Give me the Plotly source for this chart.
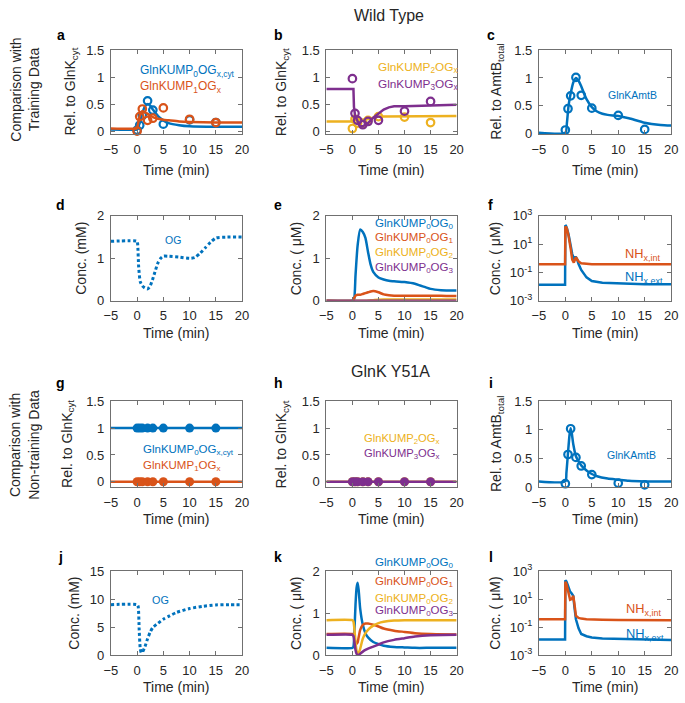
import plotly.graph_objects as go

# ---------------- colours ----------------
BLUE = '#0072BD'; ORANGE = '#D95319'; YELLOW = '#EDB120'; PURPLE = '#7E2F8E'
AX = '#707070'; TXT = '#262626'
FONT = 'Liberation Sans, Arial, sans-serif'

# ---------------- data ----------------
x_ticks = [-5, 0, 5, 10, 15, 20]
t_data = [0, 0.5, 1, 2, 3, 5, 10, 15]

# a
a_fit_t = [-5, -0.1, 0, 0.5, 1, 1.5, 2, 2.5, 3, 4, 5, 6, 8, 10, 15, 20]
a_p0_fit = [0.03, 0.03, 0.04, 0.15, 0.33, 0.46, 0.5, 0.47, 0.4, 0.28, 0.2, 0.15, 0.11, 0.09, 0.08, 0.08]
a_p1_fit = [0.05, 0.05, 0.06, 0.28, 0.37, 0.35, 0.32, 0.29, 0.26, 0.23, 0.21, 0.2, 0.18, 0.17, 0.16, 0.16]
a_p0_data = [0.02, 0.11, 0.29, 0.56, 0.39, 0.13, 0.21, 0.16]
a_p1_data = [0.0, 0.27, 0.41, 0.2, 0.24, 0.43, 0.22, 0.16]

# b
b_fit_t = [-5, 0.2, 0.3, 0.5, 1, 1.5, 2, 3, 4, 5, 6, 7, 8, 10, 15, 20]
b_p2_fit = [0.18, 0.18, 0.26, 0.24, 0.2, 0.19, 0.2, 0.22, 0.25, 0.27, 0.27, 0.27, 0.27, 0.27, 0.28, 0.28]
b_p3_fit = [0.78, 0.78, 0.45, 0.3, 0.18, 0.09, 0.09, 0.15, 0.25, 0.33, 0.4, 0.44, 0.46, 0.46, 0.47, 0.49]
b_p2_data = [0.05, 0.22, 0.15, 0.15, 0.2, 0.27, 0.26, 0.16]
b_p3_data = [0.97, 0.33, 0.2, 0.12, 0.18, 0.2, 0.37, 0.55]

# c
c_fit_t = [-5, 0, 0.3, 0.6, 1, 1.5, 2, 2.5, 3, 4, 5, 6, 7, 8, 10, 12, 15, 18, 20]
c_fit = [0.02, 0.02, 0.2, 0.5, 0.72, 0.92, 1.0, 0.95, 0.85, 0.62, 0.48, 0.4, 0.36, 0.34, 0.32, 0.28, 0.2, 0.16, 0.15]
c_data = [0.07, 0.45, 0.68, 1.01, 0.69, 0.46, 0.33, 0.08]

# d
d_t = [-5, 0, 0.1, 0.3, 0.6, 1, 1.5, 2, 2.5, 3, 3.5, 4, 4.5, 5, 6, 8, 10, 11, 12, 13, 14, 15, 17, 20]
d_og = [1.4, 1.4, 1.35, 0.8, 0.45, 0.35, 0.3, 0.28, 0.35, 0.52, 0.72, 0.9, 1.0, 1.05, 1.05, 1.03, 1.0, 1.02, 1.12, 1.25, 1.38, 1.48, 1.5, 1.5]

# e
e_t = [-5, 0, 0.3, 0.6, 1, 1.5, 2, 2.5, 3, 3.5, 4, 5, 6, 7, 8, 10, 12, 13, 14, 15, 17, 20]
e_og0 = [0.0, 0.0, 0.02, 0.6, 1.3, 1.68, 1.62, 1.48, 1.15, 0.85, 0.68, 0.55, 0.5, 0.47, 0.46, 0.44, 0.4, 0.36, 0.32, 0.28, 0.25, 0.24]
e_og1 = [0, 0, 0.05, 0.12, 0.14, 0.14, 0.16, 0.18, 0.2, 0.22, 0.23, 0.2, 0.15, 0.13, 0.12, 0.12, 0.12, 0.12, 0.12, 0.12, 0.12, 0.11]
e_og2 = [0, 0, 0, 0, 0, 0, 0, 0, 0.005, 0.01, 0.015, 0.025, 0.03, 0.03, 0.03, 0.03, 0.03, 0.03, 0.03, 0.03, 0.03, 0.03]
e_og3 = [0, 0, 0, 0, 0, 0, 0, 0, 0, 0, 0, 0, 0, 0, 0, 0, 0, 0, 0, 0, 0, 0]

# f
f_t = [-5, -0.05, 0, 0.1, 0.3, 0.6, 1, 1.3, 1.6, 1.8, 2, 2.2, 2.5, 3, 4, 5, 7, 10, 15, 20]
f_int = [0.38, 0.38, 150, 180, 120, 40, 5, 0.8, 0.5, 0.9, 1.2, 0.9, 0.6, 0.45, 0.4, 0.38, 0.38, 0.38, 0.38, 0.38]
f_ext = [0.0135, 0.0135, 220, 200, 130, 50, 8, 2, 1.0, 1.2, 1.2, 0.9, 0.4, 0.15, 0.045, 0.025, 0.019, 0.017, 0.015, 0.015]

# g
g_fit_t = [-5, 20]
g_p0_fit = [1, 1]
g_p1_fit = [0, 0]
g_p0_data = [1, 1, 1, 1, 1, 1, 1, 1]
g_p1_data = [0, 0, 0, 0, 0, 0, 0, 0]

# h
h_fit_t = [-5, 20]
h_p2_fit = [0, 0]
h_p3_fit = [0, 0]
h_p2_data = [0, 0, 0, 0, 0, 0, 0, 0]
h_p3_data = [0, 0, 0, 0, 0, 0, 0, 0]

# i
i_fit_t = [-5, 0, 0.2, 0.5, 0.8, 1, 1.2, 1.5, 2, 2.5, 3, 4, 5, 6, 8, 10, 12, 15, 20]
i_fit = [0.1, 0.1, 0.25, 0.6, 0.92, 1.03, 0.95, 0.75, 0.54, 0.45, 0.38, 0.29, 0.23, 0.19, 0.15, 0.13, 0.11, 0.1, 0.1]
i_data = [0.06, 0.57, 1.02, 0.52, 0.37, 0.22, 0.07, 0.04]

# j
j_t = [-5, 0, 0.2, 0.4, 0.6, 0.8, 1, 1.5, 2, 2.5, 3, 3.75, 5, 6, 7.5, 10, 12.5, 15, 17.5, 20]
j_og = [9.0, 9.0, 8.7, 4.5, 1.2, 0.4, 0.5, 1.5, 2.9, 4.1, 4.9, 5.5, 6.4, 6.9, 7.6, 8.3, 8.7, 8.95, 9.0, 9.0]

# k
k_t = [-5, 0, 0.2, 0.4, 0.6, 0.8, 1, 1.2, 1.5, 2, 2.5, 3, 4, 5, 6, 8, 10, 12, 15, 20]
k_og0 = [0.17, 0.17, 0.2, 0.6, 1.2, 1.6, 1.72, 1.55, 1.1, 0.72, 0.52, 0.42, 0.31, 0.26, 0.22, 0.19, 0.18, 0.17, 0.17, 0.17]
k_og1 = [0.5, 0.5, 0.48, 0.4, 0.3, 0.27, 0.3, 0.42, 0.6, 0.72, 0.75, 0.75, 0.72, 0.68, 0.63, 0.58, 0.55, 0.52, 0.5, 0.49]
k_og2 = [0.83, 0.83, 0.8, 0.6, 0.3, 0.1, 0.02, 0.04, 0.15, 0.39, 0.52, 0.6, 0.7, 0.76, 0.79, 0.82, 0.83, 0.83, 0.83, 0.83]
k_og3 = [0.48, 0.48, 0.45, 0.3, 0.12, 0.03, 0.0, 0.0, 0.03, 0.08, 0.12, 0.15, 0.2, 0.25, 0.3, 0.36, 0.4, 0.44, 0.47, 0.48]

# l
l_t = [-5, -0.05, 0, 0.2, 0.5, 0.9, 1.2, 1.5, 1.7, 2, 2.5, 3, 4, 5, 7, 10, 15, 20]
l_int = [0.36, 0.36, 170, 120, 40, 9, 10, 17, 5, 0.63, 0.45, 0.4, 0.36, 0.34, 0.33, 0.32, 0.31, 0.3]
l_ext = [0.013, 0.013, 220, 180, 90, 34, 25, 17, 3, 0.36, 0.08, 0.032, 0.022, 0.018, 0.015, 0.014, 0.013, 0.012]

# ---------------- layout geometry ----------------
W, H = 685, 703
cols_px = [(106, 240), (326, 459), (543, 678)]
rows_px = [(42, 128), (212, 299), (402, 490), (576, 662)]

yranges = [[-0.05, 1.5], [-0.05, 1.5], [0, 1.5],
           [0, 2], [0, 2], [-3, 3],
           [-0.1, 1.5], [-0.1, 1.5], [0, 1.5],
           [0, 15], [0, 2], [-3, 3]]
log_panels = {5, 11}
ytick_sets = {
    'rel': ([0, 0.5, 1, 1.5], ['0', '0.5', '1', '1.5']),
    'c2': ([0, 1, 2], ['0', '1', '2']),
    'log': ([1e-3, 1e-1, 1e1, 1e3], ['10<sup>-3</sup>', '10<sup>-1</sup>', '10<sup>1</sup>', '10<sup>3</sup>']),
    'c15': ([0, 5, 10, 15], ['0', '5', '10', '15']),
}
ytick_kind = ['rel', 'rel', 'rel', 'c2', 'c2', 'log', 'rel', 'rel', 'rel', 'c15', 'c2', 'log']

fig = go.Figure()

def ax_ids(p):
    s = '' if p == 0 else str(p + 1)
    return 'x' + s, 'y' + s

def line(p, x, y, color, width=2.5, dash='solid', shape='spline'):
    xa, ya = ax_ids(p)
    fig.add_trace(go.Scatter(x=x, y=y, mode='lines', xaxis=xa, yaxis=ya,
                             line=dict(color=color, width=width, dash=dash, shape=shape, smoothing=0.6),
                             hoverinfo='skip'))

def pts(p, x, y, color, filled=False):
    xa, ya = ax_ids(p)
    if filled:
        m = dict(symbol='circle', size=9, color=color)
    else:
        m = dict(symbol='circle-open', size=7.5, color=color, line=dict(width=2.2, color=color))
    fig.add_trace(go.Scatter(x=x, y=y, mode='markers', xaxis=xa, yaxis=ya, marker=m,
                             hoverinfo='skip', cliponaxis=False))

# a
line(0, a_fit_t, a_p0_fit, BLUE); pts(0, t_data, a_p0_data, BLUE)
line(0, a_fit_t, a_p1_fit, ORANGE); pts(0, t_data, a_p1_data, ORANGE)
# b
line(1, b_fit_t, b_p2_fit, YELLOW, shape='linear'); pts(1, t_data, b_p2_data, YELLOW)
line(1, b_fit_t, b_p3_fit, PURPLE, shape='linear'); pts(1, t_data, b_p3_data, PURPLE)
# c
line(2, c_fit_t, c_fit, BLUE); pts(2, t_data, c_data, BLUE)
# d
line(3, d_t, d_og, BLUE, width=3, dash='3px,2.5px')
# e
line(4, e_t, e_og0, BLUE); line(4, e_t, e_og1, ORANGE); line(4, e_t, e_og2, YELLOW); line(4, e_t, e_og3, PURPLE)
# f
line(5, f_t, f_ext, BLUE, shape='linear'); line(5, f_t, f_int, ORANGE, shape='linear')
# g
line(6, g_fit_t, g_p0_fit, BLUE, shape='linear'); pts(6, t_data, g_p0_data, BLUE, True)
line(6, g_fit_t, g_p1_fit, ORANGE, shape='linear'); pts(6, t_data, g_p1_data, ORANGE, True)
# h
line(7, h_fit_t, h_p2_fit, YELLOW, shape='linear'); pts(7, t_data, h_p2_data, YELLOW, True)
line(7, h_fit_t, h_p3_fit, PURPLE, shape='linear'); pts(7, t_data, h_p3_data, PURPLE, True)
# i
line(8, i_fit_t, i_fit, BLUE); pts(8, t_data, i_data, BLUE)
# j
line(9, j_t, j_og, BLUE, width=3, dash='3px,2.5px')
# k
line(10, k_t, k_og0, BLUE); line(10, k_t, k_og1, ORANGE); line(10, k_t, k_og2, YELLOW); line(10, k_t, k_og3, PURPLE)
# l
line(11, l_t, l_ext, BLUE, shape='linear'); line(11, l_t, l_int, ORANGE, shape='linear')

layout = dict(width=W, height=H, margin=dict(l=0, r=0, t=0, b=0),
              paper_bgcolor='white', plot_bgcolor='white', showlegend=False,
              font=dict(family=FONT, color=TXT, size=13))
for p in range(12):
    r, c = divmod(p, 3)
    x0, x1 = cols_px[c]; y0, y1 = rows_px[r]
    s = '' if p == 0 else str(p + 1)
    tv, tt = ytick_sets[ytick_kind[p]]
    common = dict(ticks='inside', ticklen=4, tickcolor=AX, showline=True, linecolor=AX,
                  linewidth=1, mirror='ticks', showgrid=False, zeroline=False,
                  tickfont=dict(size=13, color=TXT, family=FONT))
    layout['xaxis' + s] = dict(domain=[x0 / W, x1 / W], range=[-5, 20], tickvals=x_ticks,
                               anchor='y' + s, ticklabelstandoff=3, **common)
    ya = dict(domain=[1 - y1 / H, 1 - y0 / H], range=yranges[p], tickvals=tv, ticktext=tt,
              anchor='x' + s, ticklabelstandoff=3, **common)
    if p in log_panels:
        ya['type'] = 'log'
    layout['yaxis' + s] = ya

ann = []

def txt(p, x, y, text, color, size, xanchor='left'):
    s = '' if p == 0 else str(p + 1)
    ann.append(dict(xref='x' + s, yref='y' + s, x=x, y=y, text=text, showarrow=False,
                    xanchor=xanchor, yanchor='middle', font=dict(color=color, size=size, family=FONT)))

def paper(xp, yp, text, size, angle=0, bold=False, color=TXT, xanchor='center'):
    if bold:
        text = '<b>' + text + '</b>'
    ann.append(dict(xref='paper', yref='paper', x=xp / W, y=1 - yp / H, text=text, showarrow=False,
                    xanchor=xanchor, yanchor='middle', textangle=angle,
                    font=dict(color=color, size=size, family=FONT)))

# in-plot labels
txt(0, 0.1, 1.12, 'GlnKUMP<sub>0</sub>OG<sub>x,cyt</sub>', BLUE, 12)
txt(0, 0.1, 0.82, 'GlnKUMP<sub>1</sub>OG<sub>x</sub>', ORANGE, 12)
txt(1, 4.6, 1.17, 'GlnKUMP<sub>2</sub>OG<sub>x</sub>', YELLOW, 11.8)
txt(1, 4.6, 0.87, 'GlnKUMP<sub>3</sub>OG<sub>x</sub>', PURPLE, 11.8)
txt(2, 7.6, 0.7, 'GlnKAmtB', BLUE, 10.5)
txt(3, 4.9, 1.42, 'OG', BLUE, 10.5)
txt(4, 19.8, 1.8, 'GlnKUMP<sub>0</sub>OG<sub>0</sub>', BLUE, 11.5, 'right')
txt(4, 19.8, 1.49, 'GlnKUMP<sub>0</sub>OG<sub>1</sub>', ORANGE, 11.5, 'right')
txt(4, 19.8, 1.13, 'GlnKUMP<sub>0</sub>OG<sub>2</sub>', YELLOW, 11.5, 'right')
txt(4, 19.8, 0.77, 'GlnKUMP<sub>0</sub>OG<sub>3</sub>', PURPLE, 11.5, 'right')
txt(5, 10.9, 0.3, 'NH<sub>x,int</sub>', ORANGE, 12.8)
txt(5, 10.9, -1.35, 'NH<sub>x,ext</sub>', BLUE, 12.8)
txt(6, 0.75, 0.6, 'GlnKUMP<sub>0</sub>OG<sub>x,cyt</sub>', BLUE, 11.5)
txt(6, 0.75, 0.3, 'GlnKUMP<sub>1</sub>OG<sub>x</sub>', ORANGE, 11.5)
txt(7, 1.75, 0.8, 'GlnKUMP<sub>2</sub>OG<sub>x</sub>', YELLOW, 11.2)
txt(7, 1.75, 0.51, 'GlnKUMP<sub>3</sub>OG<sub>x</sub>', PURPLE, 11.2)
txt(8, 7.45, 0.56, 'GlnKAmtB', BLUE, 10.5)
txt(9, 2.5, 9.9, 'OG', BLUE, 10.8)
# top label of k sits above the axes, so it is placed in page coordinates
paper(cols_px[1][1] - 1, 568, 'GlnKUMP<sub>0</sub>OG<sub>0</sub>', 11.5, color=BLUE, xanchor='right')
txt(10, 19.8, 1.74, 'GlnKUMP<sub>0</sub>OG<sub>1</sub>', ORANGE, 11.5, 'right')
txt(10, 19.8, 1.34, 'GlnKUMP<sub>0</sub>OG<sub>2</sub>', YELLOW, 11.5, 'right')
txt(10, 19.8, 1.06, 'GlnKUMP<sub>0</sub>OG<sub>3</sub>', PURPLE, 11.5, 'right')
txt(11, 11.0, 0.22, 'NH<sub>x,int</sub>', ORANGE, 12.8)
txt(11, 11.0, -1.57, 'NH<sub>x,ext</sub>', BLUE, 12.8)

# x titles
x_title_y = [165, 332, 523, 695]
for r in range(4):
    for c in range(3):
        paper((cols_px[c][0] + cols_px[c][1]) / 2, x_title_y[r], 'Time (min)', 14)

# y titles
rel_glnk = 'Rel. to GlnK<sub>cyt</sub>'
rel_amtb = 'Rel. to AmtB<sub>total</sub>'
conc_mm = 'Conc. (mM)'
conc_um = 'Conc. ( μM)'
ytitles = [(65, rel_glnk), (281, rel_glnk), (500, rel_amtb),
           (76, conc_mm), (295, conc_um), (498, conc_um),
           (62, rel_glnk), (281, rel_glnk), (500, rel_amtb),
           (68, conc_mm), (295, conc_um), (498, conc_um)]
for p, (xp, t) in enumerate(ytitles):
    r = p // 3
    paper(xp, (rows_px[r][0] + rows_px[r][1]) / 2, t, 14, angle=-90)

# panel letters
letters = 'abcdefghijkl'
letter_x = [55, 277, 494]
letter_y = [27, 201, 383, 562]
for p in range(12):
    r, c = divmod(p, 3)
    paper(letter_x[c], letter_y[r], letters[p], 14, bold=True, color='black')

# column titles and row labels
paper(390, 7, 'Wild Type', 16)
paper(392, 371, 'GlnK Y51A', 16)
paper(18, 83, 'Comparison with<br>Training Data', 14, angle=-90)
paper(18, 447, 'Comparison with<br>Non-training Data', 14, angle=-90)

layout['annotations'] = ann
fig.update_layout(**layout)
fig.write_html('out.html', config={'displayModeBar': False, 'staticPlot': True},
               post_script="document.body.style.margin='0';document.body.style.overflow='hidden';")
